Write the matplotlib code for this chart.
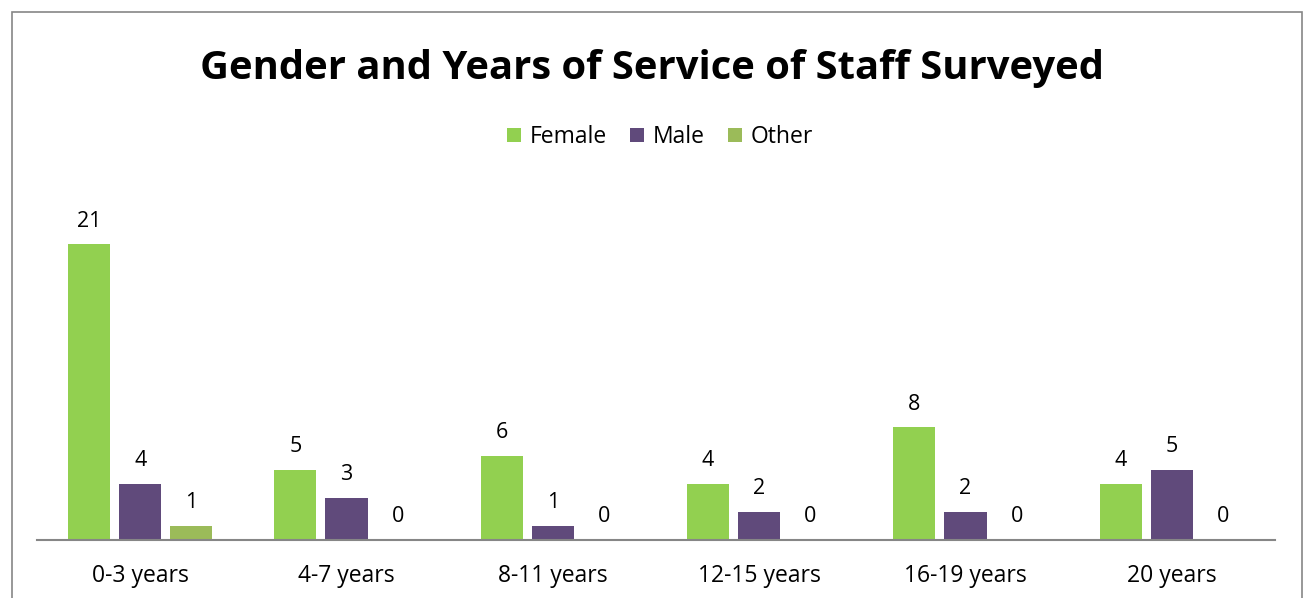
import matplotlib.pyplot as plt
import matplotlib.patches as patches
import numpy as np

# data
categories = ["0-3 years", "4-7 years", "8-11 years", "12-15 years", "16-19 years", "20 years"]
female = [21, 5, 6, 4, 8, 4]
male = [4, 3, 1, 2, 2, 5]
other = [1, 0, 0, 0, 0, 0]

series_names = ["Female", "Male", "Other"]
series_colors = ["#92D050", "#604A7B", "#9BBB59"]

plt.rcParams['font.family'] = ['Open Sans', 'DejaVu Sans']

fig = plt.figure(figsize=(13.05, 5.98), dpi=100)
ax = fig.add_axes([37 / 1305, 58 / 598, 1238 / 1305, 352 / 598])

x = np.arange(len(categories))
bar_w = 0.204
step = 0.248

for i, (vals, name, col) in enumerate(zip([female, male, other], series_names, series_colors)):
    pos = x + (i - 1) * step
    bars = ax.bar(pos, vals, width=bar_w, color=col, label=name, zorder=2)
    for b, v in zip(bars, vals):
        ax.annotate(str(v), (b.get_x() + b.get_width() / 2, v),
                    xytext=(0, 9), textcoords='offset points',
                    ha='center', va='bottom', fontsize=15.5, color='black')

ax.set_xlim(-0.5, len(categories) - 0.5)
ax.set_ylim(0, 25)
ax.set_xticks(x)
ax.set_xticklabels(categories, fontsize=16.5)
ax.tick_params(axis='x', length=0, pad=17)
ax.set_yticks([])
for s in ['top', 'right', 'left']:
    ax.spines[s].set_visible(False)
ax.spines['bottom'].set_color('#868686')
ax.spines['bottom'].set_linewidth(1.5)

fig.text(0.5, 1 - 68 / 598, "Gender and Years of Service of Staff Surveyed",
         ha='center', va='center', fontsize=28.8, fontweight='bold')

fig.legend(loc='center', bbox_to_anchor=(660 / 1305, 1 - 137 / 598), ncol=3,
           frameon=False, fontsize=16.5, handlelength=0.6, handleheight=0.6,
           columnspacing=1.0, handletextpad=0.4)

# outer chart border
border = patches.Rectangle((12 / 1305, -0.05), 1290 / 1305, 1.05 - 12 / 598,
                           transform=fig.transFigure, fill=False,
                           edgecolor='#868686', linewidth=1.2)
fig.patches.append(border)

fig.savefig("out.png", dpi=100)
